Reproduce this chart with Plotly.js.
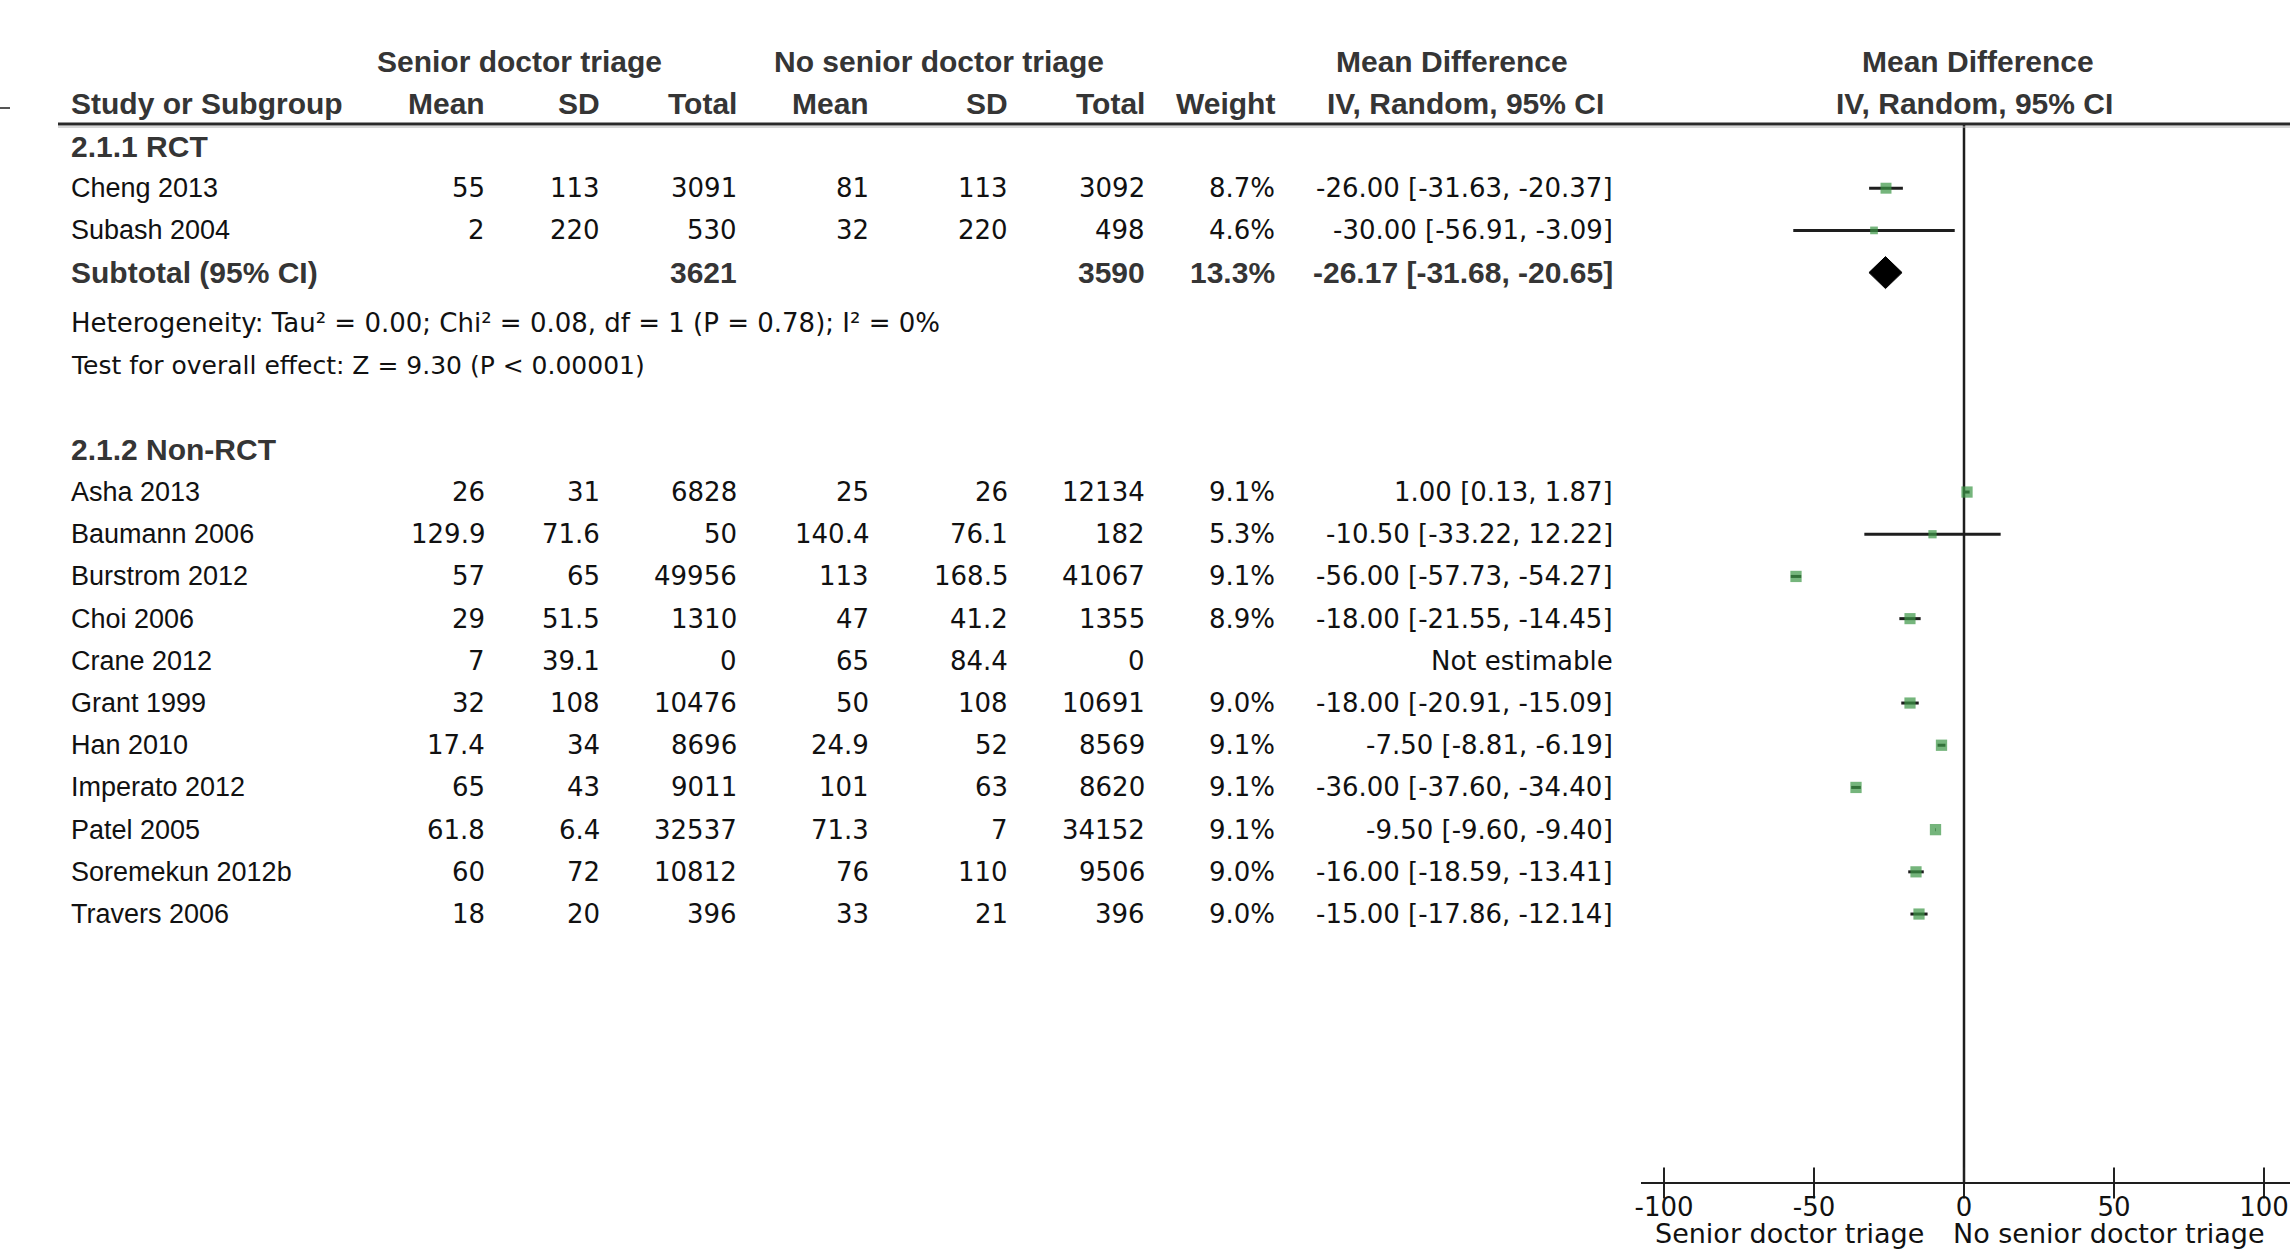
<!DOCTYPE html>
<html><head><meta charset="utf-8">
<script src="https://cdn.plot.ly/plotly-3.0.1.min.js"></script>
<style>html,body{margin:0;padding:0;background:#fff;}#chart{width:2290px;height:1253px;}</style>
</head><body><div id="chart"></div>
<script>
// ---------------- data ----------------
const groupLabels = ["2.1.1 RCT", "2.1.2 Non-RCT"];

const rctStudies     = ["Cheng 2013", "Subash 2004"];
const rctMeanSenior  = [55, 2];
const rctSdSenior    = [113, 220];
const rctTotalSenior = [3091, 530];
const rctMeanNo      = [81, 32];
const rctSdNo        = [113, 220];
const rctTotalNo     = [3092, 498];
const rctWeight      = [8.7, 4.6];
const rctMD          = [-26.00, -30.00];
const rctLo          = [-31.63, -56.91];
const rctHi          = [-20.37, -3.09];

const rctSubtotalLabel  = "Subtotal (95% CI)";
const rctSubtotalTotals = [3621, 3590];
const rctSubtotalWeight = 13.3;
const rctSubtotalCI     = [-26.17, -31.68, -20.65];
const rctHeterogeneity  = "Heterogeneity: Tau\u00b2 = 0.00; Chi\u00b2 = 0.08, df = 1 (P = 0.78); I\u00b2 = 0%";
const rctOverallEffect  = "Test for overall effect: Z = 9.30 (P < 0.00001)";

const nrStudies     = ["Asha 2013", "Baumann 2006", "Burstrom 2012", "Choi 2006", "Crane 2012", "Grant 1999",
                       "Han 2010", "Imperato 2012", "Patel 2005", "Soremekun 2012b", "Travers 2006"];
const nrMeanSenior  = [26, 129.9, 57, 29, 7, 32, 17.4, 65, 61.8, 60, 18];
const nrSdSenior    = [31, 71.6, 65, 51.5, 39.1, 108, 34, 43, 6.4, 72, 20];
const nrTotalSenior = [6828, 50, 49956, 1310, 0, 10476, 8696, 9011, 32537, 10812, 396];
const nrMeanNo      = [25, 140.4, 113, 47, 65, 50, 24.9, 101, 71.3, 76, 33];
const nrSdNo        = [26, 76.1, 168.5, 41.2, 84.4, 108, 52, 63, 7, 110, 21];
const nrTotalNo     = [12134, 182, 41067, 1355, 0, 10691, 8569, 8620, 34152, 9506, 396];
const nrWeight      = [9.1, 5.3, 9.1, 8.9, null, 9.0, 9.1, 9.1, 9.1, 9.0, 9.0];
const nrMD          = [1.00, -10.50, -56.00, -18.00, null, -18.00, -7.50, -36.00, -9.50, -16.00, -15.00];
const nrLo          = [0.13, -33.22, -57.73, -21.55, null, -20.91, -8.81, -37.60, -9.60, -18.59, -17.86];
const nrHi          = [1.87, 12.22, -54.27, -14.45, null, -15.09, -6.19, -34.40, -9.40, -13.41, -12.14];
const notEstimableText = "Not estimable";

const groupHeaders  = ["Senior doctor triage", "No senior doctor triage"];
const columnHeaders = ["Study or Subgroup", "Mean", "SD", "Total", "Mean", "SD", "Total", "Weight"];
const effectHeader  = ["Mean Difference", "IV, Random, 95% CI"];
const axisTicks     = [-100, -50, 0, 50, 100];
const axisSideLabels = ["Senior doctor triage", "No senior doctor triage"];

// ---------------- layout geometry ----------------
const W = 2290, H = 1253;
const P0 = 146, S = 42.2;            // pixel of first body row, row pitch
const X0 = 1964, PXU = 3;            // pixel of zero on the forest axis, px per unit
const AXIS_PX = 1183;
const kAxis = (AXIS_PX - P0) / S;
const kHeadLine = (124 - P0) / S;
const kBottom = (1233 - P0) / S;
const px = p => p / W;

// column right edges (px)
const colRight = {m1: 486, s1: 601, t1: 738, m2: 870, s2: 1009, t2: 1146, w: 1276, ci: 1614};
const nameLeft = 70;

const numFont  = {family: "DejaVu Sans, Liberation Sans, sans-serif", size: 26, color: "#111"};
const nameFont = {family: "Liberation Sans, Arial, sans-serif", size: 27, color: "#111"};
const noteFont = {family: "DejaVu Sans, Liberation Sans, sans-serif", size: 25, color: "#111"};
const hetFont  = {family: "DejaVu Sans, Liberation Sans, sans-serif", size: 26, color: "#111"};
const sideFont = {family: "DejaVu Sans, Liberation Sans, sans-serif", size: 27, color: "#111"};
const headFont = {family: "Liberation Sans Narrow, Arial Narrow, Liberation Sans, sans-serif", size: 30, color: "#353535", weight: "bold"};

const ann = [];
function txt(text, xp, k, anchor, font) {
  ann.push({text: text, x: px(xp), xref: "paper", y: k, yref: "y", xanchor: anchor, yanchor: "middle",
            showarrow: false, font: font, borderpad: 0});
}
function txtX(text, xv, k, anchor, font) {
  ann.push({text: text, x: xv, xref: "x2", y: k, yref: "y", xanchor: anchor, yanchor: "middle",
            showarrow: false, font: font, borderpad: 0});
}
const fmtCI = (m, l, h) => m.toFixed(2) + " [" + l.toFixed(2) + ", " + h.toFixed(2) + "]";

// headers
txt(groupHeaders[0], 376, -2, "left", headFont);
txt(groupHeaders[1], 773, -2, "left", headFont);
txt(effectHeader[0], 1452, -2, "center", headFont);
txt(effectHeader[0], 1978, -2, "center", headFont);
txt(columnHeaders[0], nameLeft, -1, "left", headFont);
const hdrCols = ["m1", "s1", "t1", "m2", "s2", "t2", "w"];
hdrCols.forEach((c, i) => txt(columnHeaders[i + 1], colRight[c], -1, "right", headFont));
txt(effectHeader[1], 1465, -1, "center", headFont);
txt(effectHeader[1], 1974, -1, "center", headFont);

// rows
const ciX = [], ciY = [], ptX = [], ptY = [], ptS = [];
function studyRow(k, name, m1, s1, t1, m2, s2, t2, w, md, lo, hi) {
  txt(name, nameLeft, k, "left", nameFont);
  txt(String(m1), colRight.m1, k, "right", numFont);
  txt(String(s1), colRight.s1, k, "right", numFont);
  txt(String(t1), colRight.t1, k, "right", numFont);
  txt(String(m2), colRight.m2, k, "right", numFont);
  txt(String(s2), colRight.s2, k, "right", numFont);
  txt(String(t2), colRight.t2, k, "right", numFont);
  if (w !== null) txt(w.toFixed(1) + "%", colRight.w, k, "right", numFont);
  if (md === null) { txt(notEstimableText, colRight.ci, k, "right", numFont); return; }
  txt(fmtCI(md, lo, hi), colRight.ci, k, "right", numFont);
  ciX.push(lo, hi, null); ciY.push(k, k, null);
  ptX.push(md); ptY.push(k); ptS.push(4 + 0.8 * w);
}

let k = 0;
txt(groupLabels[0], nameLeft, k, "left", headFont);
rctStudies.forEach((n, i) => {
  k += 1;
  studyRow(k, n, rctMeanSenior[i], rctSdSenior[i], rctTotalSenior[i], rctMeanNo[i], rctSdNo[i], rctTotalNo[i],
           rctWeight[i], rctMD[i], rctLo[i], rctHi[i]);
});
k += 1;
const kSub = k;
txt(rctSubtotalLabel, nameLeft, k, "left", headFont);
txt(String(rctSubtotalTotals[0]), colRight.t1, k, "right", headFont);
txt(String(rctSubtotalTotals[1]), colRight.t2, k, "right", headFont);
txt(rctSubtotalWeight.toFixed(1) + "%", colRight.w, k, "right", headFont);
txt(fmtCI(rctSubtotalCI[0], rctSubtotalCI[1], rctSubtotalCI[2]), colRight.ci, k, "right", headFont);
k += 1.2;
txt(rctHeterogeneity, nameLeft, k, "left", hetFont);
k += 1;
txt(rctOverallEffect, nameLeft, k, "left", noteFont);
k += 2;
txt(groupLabels[1], nameLeft, k, "left", headFont);
nrStudies.forEach((n, i) => {
  k += 1;
  studyRow(k, n, nrMeanSenior[i], nrSdSenior[i], nrTotalSenior[i], nrMeanNo[i], nrSdNo[i], nrTotalNo[i],
           nrWeight[i], nrMD[i], nrLo[i], nrHi[i]);
});

// axis side labels
txtX(axisSideLabels[0], -13, kBottom, "right", sideFont);
txtX(axisSideLabels[1], -4, kBottom, "left", sideFont);

// diamond
const dh = 16 / S;
const diamond = {
  x: [rctSubtotalCI[1], rctSubtotalCI[0], rctSubtotalCI[2], rctSubtotalCI[0], rctSubtotalCI[1]],
  y: [kSub, kSub - dh, kSub, kSub + dh, kSub],
  xaxis: "x2", yaxis: "y", mode: "lines", fill: "toself", fillcolor: "#000",
  line: {color: "#000", width: 1}, hoverinfo: "skip", showlegend: false
};
const ciTrace = {x: ciX, y: ciY, xaxis: "x2", yaxis: "y", mode: "lines",
  line: {color: "#1e1e1e", width: 3}, hoverinfo: "skip", showlegend: false, connectgaps: false};
const ptTrace = {x: ptX, y: ptY, xaxis: "x2", yaxis: "y", mode: "markers",
  marker: {symbol: "square", size: ptS, color: "#3a9645", line: {width: 0}}, hoverinfo: "skip", showlegend: false};
const tickTrace = {x: axisTicks, y: axisTicks.map(() => kAxis), xaxis: "x2", yaxis: "y", mode: "markers",
  marker: {symbol: "line-ns", size: 22, line: {color: "#222", width: 2}}, hoverinfo: "skip", showlegend: false, cliponaxis: false};

const shapes = [
  {type: "line", xref: "paper", yref: "y", x0: px(58), x1: 1, y0: kHeadLine, y1: kHeadLine, line: {color: "#2a2a2a", width: 3}},
  {type: "line", xref: "paper", yref: "y", x0: px(58), x1: 1, y0: kHeadLine + 3 / S, y1: kHeadLine + 3 / S, line: {color: "#b0b0b0", width: 1}},
  {type: "line", xref: "paper", yref: "y", x0: 0, x1: px(10), y0: (108 - P0) / S, y1: (108 - P0) / S, line: {color: "#555", width: 2}},
  {type: "line", xref: "x2", yref: "y", x0: 0, x1: 0, y0: kHeadLine, y1: kAxis, line: {color: "#1e1e1e", width: 2.5}, layer: "below"}
];

const x2min = (1641 - X0) / PXU, x2max = (W - X0) / PXU;
const layout = {
  width: W, height: H, margin: {l: 0, r: 0, t: 0, b: 0, pad: 0},
  paper_bgcolor: "#fff", plot_bgcolor: "rgba(0,0,0,0)", showlegend: false,
  xaxis: {visible: false, domain: [0, 1], range: [-X0 / PXU, x2max]},
  yaxis: {visible: false, domain: [0, 1], range: [(H - P0) / S, -P0 / S], anchor: "x"},
  xaxis2: {domain: [1641 / W, 1], range: [x2min, x2max], anchor: "free", position: 1 - AXIS_PX / H,
    showline: true, linecolor: "#1e1e1e", linewidth: 2, showgrid: false, zeroline: false,
    ticks: "outside", ticklen: 1, tickwidth: 2, tickcolor: "rgba(0,0,0,0)",
    tickvals: axisTicks, ticktext: axisTicks.map(String), tickfont: numFont},
  shapes: shapes, annotations: ann
};
Plotly.newPlot("chart", [ciTrace, diamond, ptTrace, tickTrace], layout, {staticPlot: true, displayModeBar: false});
</script></body></html>
